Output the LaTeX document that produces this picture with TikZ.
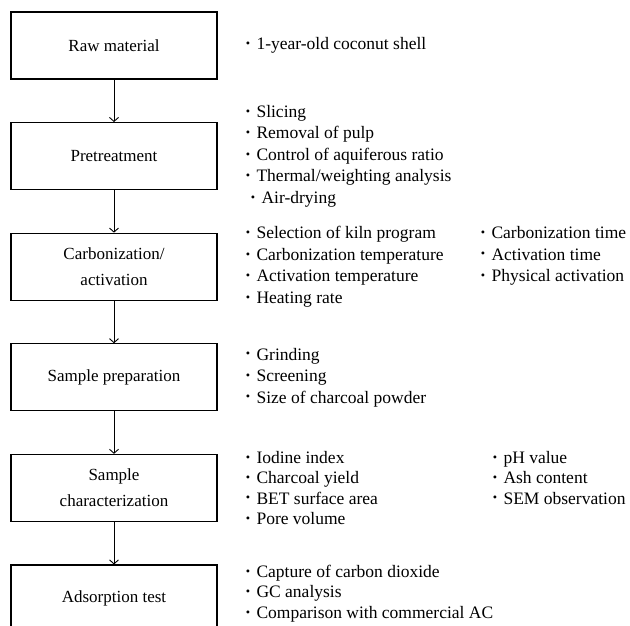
\documentclass[tikz,border=0pt]{standalone}
\usepackage{fontspec}
\setmainfont{Liberation Serif}
\usepackage{graphicx}
\usepackage{tikz}
\usetikzlibrary{arrows.meta,positioning}

\newcommand{\bul}{\raisebox{0.12em}{\scalebox{0.7}{\textbullet}}\hspace{6.5pt}}

\begin{document}
\begin{tikzpicture}[
    node distance=42.5pt and 28pt,
    box/.style={draw, line width=1.1pt, minimum width=206pt, minimum height=67pt, align=center, font=\fontsize{17}{26.5}\selectfont},
    items/.style={inner sep=0pt, align=left, anchor=west, font=\fontsize{17.5}{21.5}\selectfont},
    tight/.style={font=\fontsize{17.5}{20.3}\selectfont},
    arr/.style={-{Straight Barb[length=4pt,width=9pt]}, line width=0.9pt},
]
\useasboundingbox (0,0) rectangle (630pt,-626pt);

% Process steps
\node[box] (raw) at (114pt,-45.5pt) {Raw material};
\node[box, below=of raw] (pre) {Pretreatment};
\node[box, below=of pre] (carb) {Carbonization/\\activation};
\node[box, below=of carb] (prep) {Sample preparation};
\node[box, below=of prep] (char) {Sample\\characterization};
\node[box, below=of char] (ads) {Adsorption test};

% Details of each step
\node[items, right=of raw] (rawA) {\bul 1-year-old coconut shell};
\node[items, right=of pre] (preA) {\bul Slicing\\\bul Removal of pulp\\\bul Control of aquiferous ratio\\\bul Thermal/weighting analysis\\\hspace{5pt}\bul Air-drying};
\node[items, right=of carb] (carbA) {\bul Selection of kiln program\\\bul Carbonization temperature\\\bul Activation temperature\\\bul Heating rate};
\node[items, anchor=north west, xshift=235pt] (carbB) at (carbA.north west) {\bul Carbonization time\\\bul Activation time\\\bul Physical activation};
\node[items, right=of prep] (prepA) {\bul Grinding\\\bul Screening\\\bul Size of charcoal powder};
\node[items, tight, right=of char] (charA) {\bul Iodine index\\\bul Charcoal yield\\\bul BET surface area\\\bul Pore volume};
\node[items, tight, anchor=north west, xshift=247pt] (charB) at (charA.north west) {\bul pH value\\\bul Ash content\\\bul SEM observation};
\node[items, tight, right=of ads, yshift=5pt] (adsA) {\bul Capture of carbon dioxide\\\bul GC analysis\\\bul Comparison with commercial AC};

% Arrows
\draw[arr] (raw) -- (pre);
\draw[arr] (pre) -- (carb);
\draw[arr] (carb) -- (prep);
\draw[arr] (prep) -- (char);
\draw[arr] (char) -- (ads);
\end{tikzpicture}
\end{document}
